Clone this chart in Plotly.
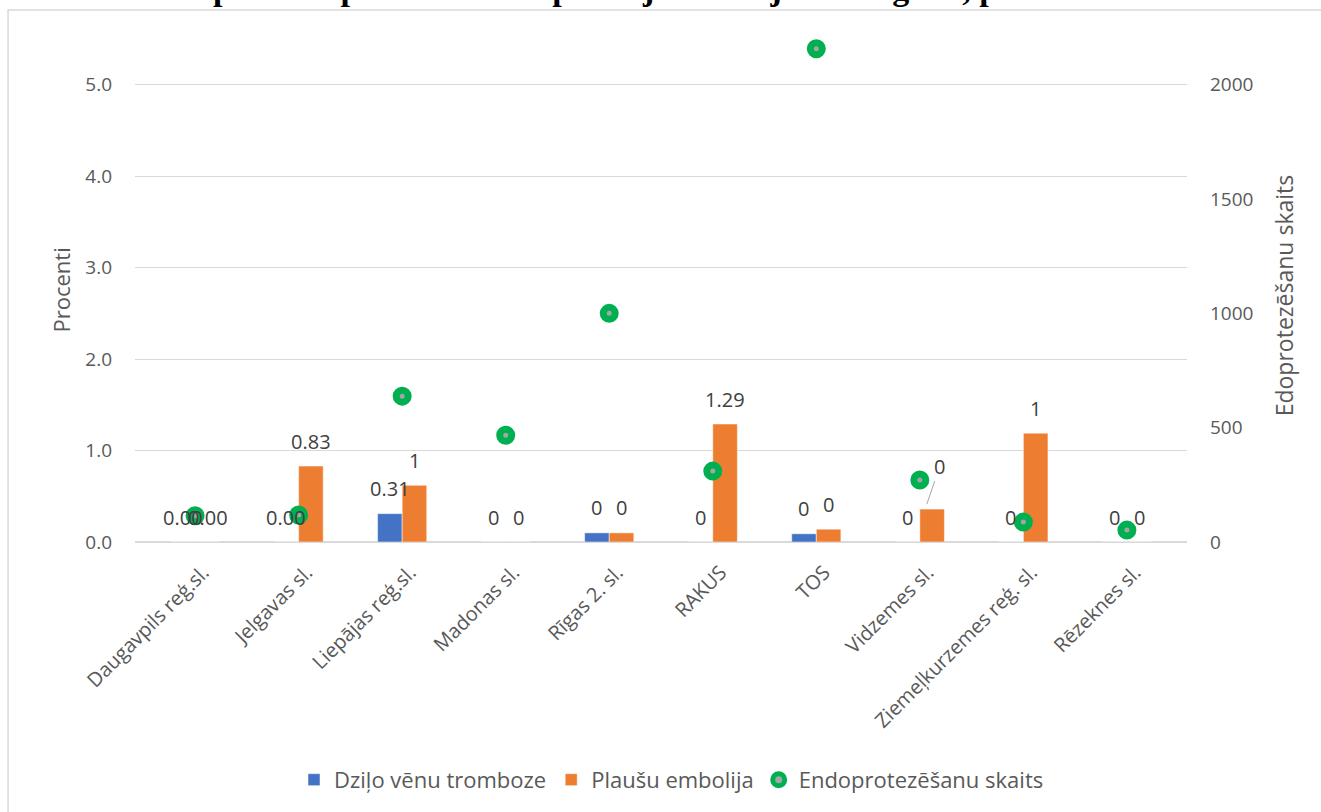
import plotly.graph_objects as go

categories = ["Daugavpils reģ.sl.", "Jelgavas sl.", "Liepājas reģ.sl.", "Madonas sl.",
              "Rīgas 2. sl.", "RAKUS", "TOS", "Vidzemes sl.",
              "Ziemeļkurzemes reģ. sl.", "Rēzeknes sl."]
dvt = [0, 0, 0.31, 0, 0.10, 0, 0.09, 0, 0, 0]
pe = [0, 0.83, 0.62, 0, 0.10, 1.29, 0.14, 0.36, 1.19, 0]
counts = [115, 118, 638, 467, 1000, 310, 2157, 271, 87, 52]
dvt_labels = ["0.00", "0.00", "0.31", "0", "0", "0", "0", "0", "0", "0"]
pe_labels = ["0.00", "0.83", "1", "0", "0", "1.29", "0", "0", "1", "0"]
left_ticks = [0, 1, 2, 3, 4, 5]
right_ticks = [0, 500, 1000, 1500, 2000]
title_text = "pēc endoprotezēšanas operācijas Latvijā 2017. gadā, procentos"

FONT = "Open Sans"
TXT = "#595959"
LBL = "#404040"

fig = go.Figure()
fig.add_trace(go.Bar(name="Dziļo vēnu tromboze", x=categories, y=dvt,
                     marker=dict(color="#4472C4", line=dict(color="white", width=0.5))))
fig.add_trace(go.Bar(name="Plaušu embolija", x=categories, y=pe,
                     marker=dict(color="#ED7D31", line=dict(color="white", width=0.5))))
fig.add_trace(go.Scatter(name="Endoprotezēšanu skaits", x=categories, y=counts, yaxis="y2",
                         mode="markers",
                         marker=dict(symbol="circle", size=12, color="#A5A5A5",
                                     line=dict(color="#00B050", width=7))))

ann = []
for i, c in enumerate(categories):
    ann.append(dict(x=c, y=dvt[i], xref="x", yref="y", text=dvt_labels[i], showarrow=False,
                    xshift=-12.5, yshift=25, yanchor="middle",
                    font=dict(family=FONT, size=20, color=LBL)))
    if c == "Vidzemes sl.":
        ann.append(dict(x=c, y=pe[i], xref="x", yref="y", text=pe_labels[i], showarrow=True,
                        arrowhead=0, arrowwidth=1, arrowcolor="#A6A6A6",
                        ax=13, ay=-38, xshift=7, yshift=5, standoff=0,
                        font=dict(family=FONT, size=20, color=LBL)))
    else:
        ann.append(dict(x=c, y=pe[i], xref="x", yref="y", text=pe_labels[i], showarrow=False,
                        xshift=12.5, yshift=25, yanchor="middle",
                        font=dict(family=FONT, size=20, color=LBL)))

# axis titles
ann.append(dict(x=-0.0694, y=0.502, xref="paper", yref="paper", text="Procenti",
                showarrow=False, textangle=-90, xanchor="center", yanchor="middle",
                font=dict(family=FONT, size=22, color=TXT)))
ann.append(dict(x=1.092, y=0.49, xref="paper", yref="paper", text="Edoprotezēšanu skaits",
                showarrow=False, textangle=-90, xanchor="center", yanchor="middle",
                font=dict(family=FONT, size=23, color=TXT)))
# (cropped) chart title
ann.append(dict(x=0.505, y=(543 - 9) / 504, xref="paper", yref="paper",
                text="<b>" + title_text + "</b>",
                showarrow=False, xanchor="center", yanchor="bottom",
                font=dict(family="Liberation Serif", size=34, color="black")))

fig.update_layout(
    width=1321, height=812,
    margin=dict(l=135, r=134, t=39, b=269),
    paper_bgcolor="white", plot_bgcolor="white",
    barmode="group", bargap=0.525, bargroupgap=0,
    font=dict(family=FONT, size=19, color=TXT),
    showlegend=True,
    legend=dict(orientation="h", x=0.51, y=-0.47, xanchor="center", yanchor="middle",
                font=dict(family=FONT, size=22, color=TXT), itemwidth=30),
    xaxis=dict(tickangle=-45, showgrid=False, showline=True, linecolor="#D9D9D9",
               linewidth=1, ticks="", tickfont=dict(family=FONT, size=20, color=TXT),
               ticklabelstandoff=10, ticklabelshift=8),
    yaxis=dict(range=[0, 5.5], tickvals=left_ticks, tickformat=".1f",
               showgrid=True, gridcolor="#D9D9D9", gridwidth=1,
               zeroline=True, zerolinecolor="#D9D9D9", showline=False, ticks="",
               tickfont=dict(family=FONT, size=19, color=TXT), ticklabelstandoff=22),
    yaxis2=dict(range=[0, 2200], tickvals=right_ticks, overlaying="y", side="right",
                showgrid=False, zeroline=False, showline=False, ticks="",
                tickfont=dict(family=FONT, size=19, color=TXT), ticklabelstandoff=22),
    annotations=ann,
    shapes=[dict(type="rect", xref="paper", yref="paper", x0=-0.1207, x1=1.3, y0=-0.7,
                 y1=1.0575, line=dict(color="#D9D9D9", width=1.5), fillcolor="rgba(0,0,0,0)",
                 layer="below")],
)

fig.write_html("out.html")
